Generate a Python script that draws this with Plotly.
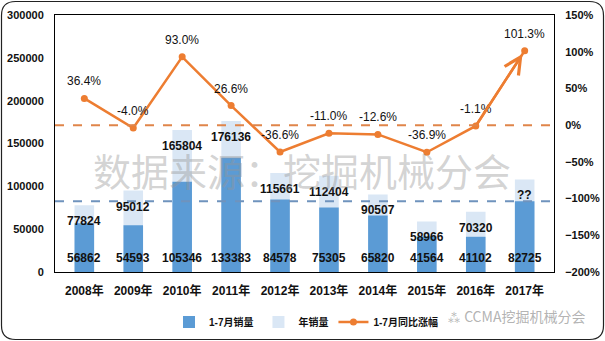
import plotly.graph_objects as go

years = ['2008年', '2009年', '2010年', '2011年', '2012年', '2013年', '2014年', '2015年', '2016年', '2017年']
jan_jul = [56862, 54593, 105346, 133383, 84578, 75305, 65820, 41564, 41102, 82725]
annual = [77824, 95012, 165804, 176136, 115661, 112404, 90507, 58966, 70320, 108000]
annual_labels = ['77824', '95012', '165804', '176136', '115661', '112404', '90507', '58966', '70320', '??']
growth = [36.4, -4.0, 93.0, 26.6, -36.6, -11.0, -12.6, -36.9, -1.1, 101.3]
growth_labels = ['36.4%', '-4.0%', '93.0%', '26.6%', '-36.6%', '-11.0%', '-12.6%', '-36.9%', '-1.1%', '101.3%']

DARK = '#5b9bd5'
LIGHT = '#dae7f5'
ORANGE = '#ed7d31'
FONT = 'Arial, Liberation Sans, Noto Sans CJK SC, sans-serif'

fig = go.Figure()
fig.add_trace(go.Bar(x=years, y=annual, name='年销量', marker=dict(color=LIGHT, line=dict(width=0)),
                     width=0.4, legendrank=2))
fig.add_trace(go.Bar(x=years, y=jan_jul, name='1-7月销量', marker=dict(color=DARK, line=dict(width=0)),
                     width=0.4, legendrank=1))
fig.add_trace(go.Scatter(x=years, y=growth, name='1-7月同比涨幅', yaxis='y2', mode='lines+markers',
                         line=dict(color=ORANGE, width=2.5), marker=dict(size=7, color=ORANGE),
                         legendrank=3))

ann = []
for yr, v, lab in zip(years, annual, annual_labels):
    ann.append(dict(x=yr, y=v, xref='x', yref='y', text=lab, showarrow=False, yanchor='middle',
                    yshift=-16, font=dict(size=12, color='#111', family=FONT, weight='bold')))
for yr, v in zip(years, jan_jul):
    ann.append(dict(x=yr, y=0, xref='x', yref='y', text=str(v), showarrow=False, yanchor='middle',
                    yshift=14, font=dict(size=12, color='#111', family=FONT, weight='bold')))
for yr, g, lab in zip(years, growth, growth_labels):
    ann.append(dict(x=yr, y=g, xref='x', yref='y2', text=lab, showarrow=False, yanchor='middle',
                    yshift=17, font=dict(size=12, color='#111', family=FONT)))
# arrow on last segment
ann.append(dict(x=years[-1], y=growth[-1], xref='x', yref='y2', ax=years[-2], ay=growth[-2],
                axref='x', ayref='y2', text='', showarrow=True, arrowhead=5, arrowsize=1.3,
                arrowwidth=2.5, arrowcolor=ORANGE, standoff=4))
# watermark
ann.append(dict(x=0.495, y=0.40, xref='paper', yref='paper', text='数据来源：挖掘机械分会', showarrow=False,
                font=dict(size=38, color='rgba(150,150,150,0.42)', family='Noto Sans CJK SC')))
ann.append(dict(x=(587 - 55) / 499, y=(272 - 316) / 257, xref='paper', yref='paper', xanchor='right',
                yanchor='middle', text='⁂ CCMA挖掘机械分会', showarrow=False,
                font=dict(size=14, color='rgba(170,170,170,0.9)', family='Noto Sans CJK SC')))

def px(x):
    return (x - 55) / 499

def py(y):
    return (272 - y) / 257

x0, y0, x1, y1, r = 1.5, 1.5, 603.5, 339.5, 14
path = (f"M {px(x0 + r)},{py(y0)} L {px(x1 - r)},{py(y0)} Q {px(x1)},{py(y0)} {px(x1)},{py(y0 + r)} "
        f"L {px(x1)},{py(y1 - r)} Q {px(x1)},{py(y1)} {px(x1 - r)},{py(y1)} "
        f"L {px(x0 + r)},{py(y1)} Q {px(x0)},{py(y1)} {px(x0)},{py(y1 - r)} "
        f"L {px(x0)},{py(y0 + r)} Q {px(x0)},{py(y0)} {px(x0 + r)},{py(y0)} Z")

shapes = [
    dict(type='line', xref='paper', yref='y', x0=0, x1=1, y0=jan_jul[-1], y1=jan_jul[-1],
         line=dict(color='#6f93bd', width=2, dash='dash'), layer='above'),
    dict(type='line', xref='paper', yref='y2', x0=0, x1=1, y0=0, y1=0,
         line=dict(color='#e0854a', width=2, dash='dash'), layer='above'),
    dict(type='path', xref='paper', yref='paper', path=path, line=dict(color='#222', width=1.2)),
]

fig.update_layout(
    width=605, height=341, margin=dict(l=55, r=51, t=15, b=69, autoexpand=False),
    paper_bgcolor='white', plot_bgcolor='white', barmode='overlay', bargap=0.6,
    font=dict(family=FONT, color='#111'),
    showlegend=True,
    legend=dict(orientation='h', x=0.503, xanchor='center', yref='container', y=1 - 322 / 341,
                yanchor='middle',
                font=dict(size=10, family=FONT, weight='bold'), traceorder='normal',
                itemwidth=30, bgcolor='rgba(0,0,0,0)'),
    xaxis=dict(showline=True, linecolor='black', linewidth=1, mirror=True, showgrid=False,
               tickfont=dict(size=12, family=FONT, weight='bold'), ticks='outside', ticklen=8,
               tickcolor='rgba(0,0,0,0)'),
    yaxis=dict(range=[0, 300000], dtick=50000, tickformat='d', showline=True, linecolor='black',
               linewidth=1, mirror=True, showgrid=False, zeroline=False,
               tickfont=dict(size=11, family=FONT, weight='bold'), ticks='outside', ticklen=8,
               tickcolor='rgba(0,0,0,0)'),
    yaxis2=dict(range=[-200, 150], dtick=50, ticksuffix='%', overlaying='y', side='right',
                showgrid=False, zeroline=False, showline=False,
                tickfont=dict(size=11, family=FONT, weight='bold'), ticks='outside', ticklen=8,
                tickcolor='rgba(0,0,0,0)'),
    annotations=ann, shapes=shapes,
)

fig.write_html('out.html')
